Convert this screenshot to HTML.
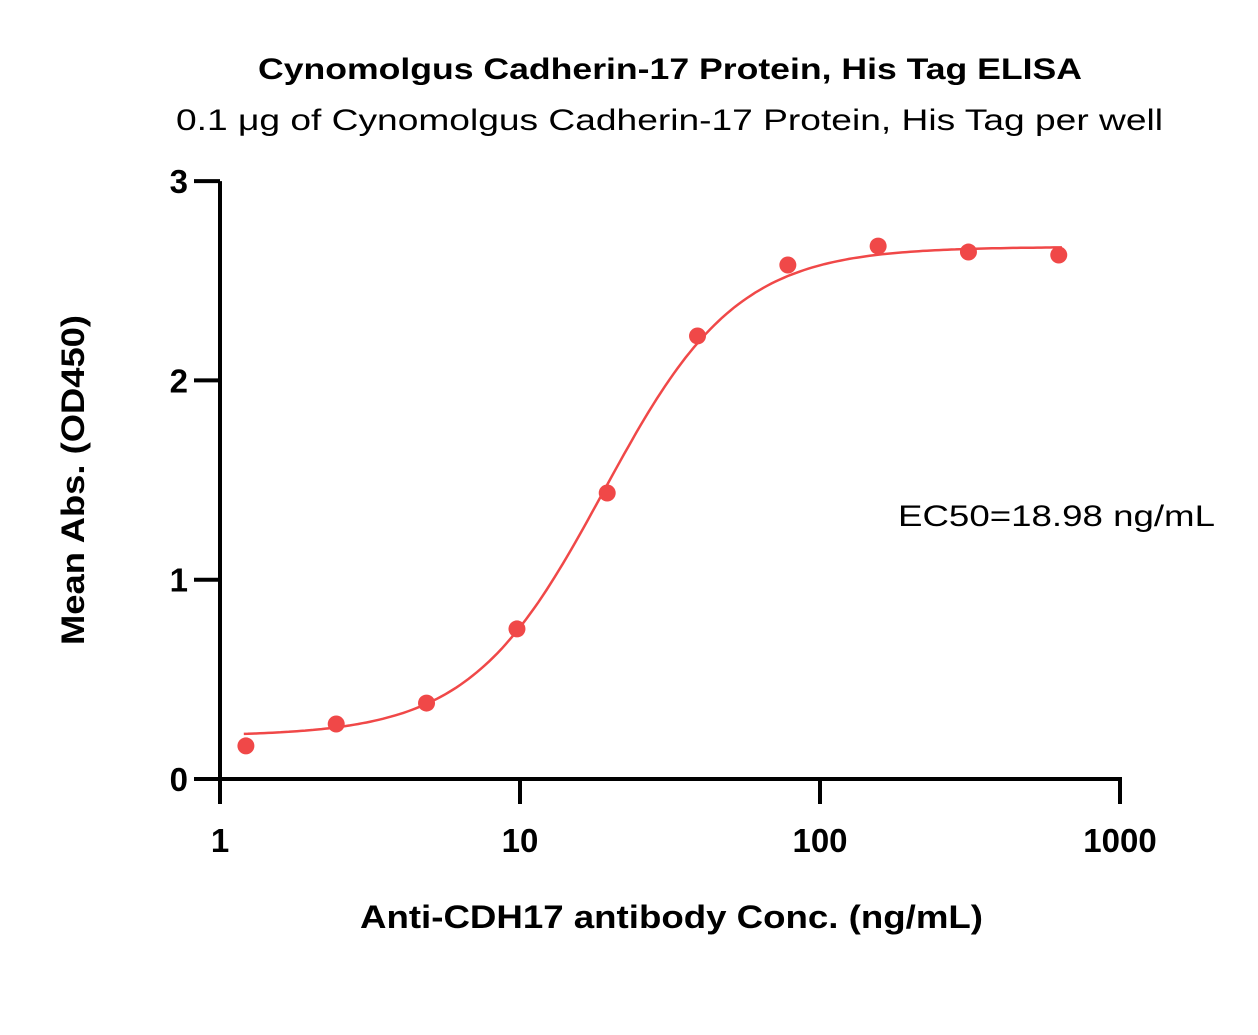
<!DOCTYPE html>
<html><head><meta charset="utf-8"><style>
html,body{margin:0;padding:0;background:#fff;}
svg{display:block;font-family:"Liberation Sans",sans-serif;}
</style></head><body>
<svg id="chart" width="1258" height="1035" viewBox="0 0 1258 1035">
<text x="258" y="79" font-size="30" font-weight="bold" textLength="824" lengthAdjust="spacingAndGlyphs">Cynomolgus Cadherin-17 Protein, His Tag ELISA</text>
<text x="176" y="130" font-size="30" textLength="987" lengthAdjust="spacingAndGlyphs">0.1 μg of Cynomolgus Cadherin-17 Protein, His Tag per well</text>
<text transform="translate(84,645) rotate(-90)" font-size="32" font-weight="bold" textLength="330" lengthAdjust="spacingAndGlyphs">Mean Abs. (OD450)</text>
<text x="360" y="928" font-size="32" font-weight="bold" textLength="623" lengthAdjust="spacingAndGlyphs">Anti-CDH17 antibody Conc. (ng/mL)</text>
<text x="898" y="526" font-size="30" textLength="317" lengthAdjust="spacingAndGlyphs">EC50=18.98 ng/mL</text>
<g id="axes"></g><g id="curve"></g><g id="points"></g>
</svg>
<script>
const xTicks=[1,10,100,1000];
const xTickLabels=["1","10","100","1000"];
const yTicks=[0,1,2,3];
const yTickLabels=["0","1","2","3"];
const concentrations=[1.22,2.44,4.88,9.77,19.53,39.06,78.13,156.25,312.5,625];
const absorbance=[0.166,0.276,0.381,0.753,1.435,2.223,2.579,2.674,2.644,2.629];
const fitParams=[0.215,2.67,18.98,1.95]; // bottom, top, EC50, hill
const fitRange=[1.2,640];
const NS="http://www.w3.org/2000/svg";
const xS=v=>220+300*Math.log10(v);
const yS=v=>779-199.3*v;
function mk(tag,attrs,parent){const e=document.createElementNS(NS,tag);for(const k in attrs)e.setAttribute(k,attrs[k]);parent.appendChild(e);return e;}
const ax=document.getElementById('axes');
let l=mk('line',{x1:220,y1:yS(3),x2:220,y2:781,stroke:'#000','stroke-width':4},ax);


l=mk('line',{x1:218,y1:779,x2:xS(1000)+2,y2:779,stroke:'#000','stroke-width':4},ax);


yTicks.forEach((v,i)=>{
 const t=mk('line',{x1:194,y1:yS(v),x2:220,y2:yS(v),stroke:'#000','stroke-width':4},ax);
 
 
 const tx=mk('text',{x:188,y:yS(v)+12,'text-anchor':'end','font-size':33,'font-weight':'bold'},ax);
 tx.textContent=yTickLabels[i];
 
 
});
xTicks.forEach((v,i)=>{
 const t=mk('line',{x1:xS(v),y1:779,x2:xS(v),y2:804,stroke:'#000','stroke-width':4},ax);
 
 
 const tx=mk('text',{x:xS(v),y:852,'text-anchor':'middle','font-size':33,'font-weight':'bold'},ax);
 tx.textContent=xTickLabels[i];
 
 
});
const [b,tp,ec,h]=fitParams;
const f=x=>b+(tp-b)/(1+Math.pow(ec/x,h));
let d='';
const a0=Math.log10(fitRange[0]),a1=Math.log10(fitRange[1]);
for(let i=0;i<=200;i++){const x=Math.pow(10,a0+(a1-a0)*i/200);d+=(i?'L':'M')+xS(x).toFixed(1)+','+yS(f(x)).toFixed(1);}
const p=mk('path',{d:d,fill:'none',stroke:'#f04848','stroke-width':2.5},document.getElementById('curve'));


const pg=document.getElementById('points');
concentrations.forEach((c,i)=>{
 const pt=mk('circle',{cx:xS(c),cy:yS(absorbance[i]),r:8.5,fill:'#f04848'},pg);
 
 
});
</script>
</body></html>
